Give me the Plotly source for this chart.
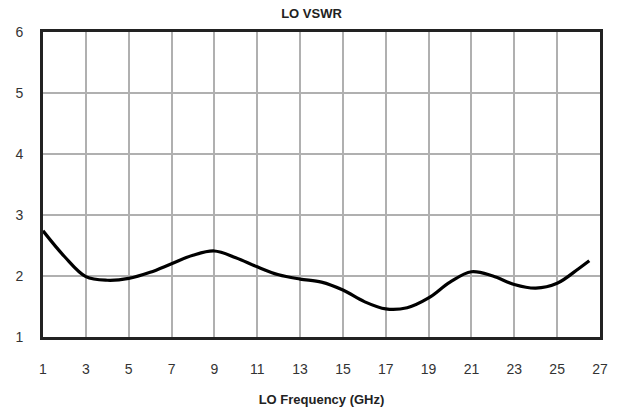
import plotly.graph_objects as go

freq = [1, 2, 3, 4, 5, 6, 7, 8, 9, 10, 11, 12, 13, 14, 15, 16, 17, 18, 19, 20, 21, 22, 23, 24, 25, 26, 26.5]
vswr = [2.74, 2.32, 1.99, 1.93, 1.96, 2.06, 2.2, 2.34, 2.41, 2.3, 2.15, 2.02, 1.95, 1.9, 1.77, 1.58, 1.46, 1.48, 1.64, 1.9, 2.07, 2.0, 1.86, 1.8, 1.88, 2.12, 2.25]

x_ticks = list(range(1, 28, 2))
y_ticks = [1, 2, 3, 4, 5, 6]

fig = go.Figure()
fig.add_trace(go.Scatter(x=freq, y=vswr, mode="lines",
                         line=dict(color="black", width=3.2, shape="spline", smoothing=1.0),
                         showlegend=False))

font_fam = "Liberation Sans Narrow, Liberation Sans, Arial"
fig.update_layout(
    width=623, height=415,
    margin=dict(l=43, r=23, t=32, b=78),
    paper_bgcolor="white", plot_bgcolor="white",
    title=dict(text="<b>LO VSWR</b>", x=0.5, xanchor="center", y=0.968, yanchor="middle",
               font=dict(family=font_fam, size=13, color="#222")),
    xaxis=dict(range=[1, 27], tickvals=x_ticks, showgrid=True, gridcolor="#b0b0b0", gridwidth=2,
               showline=True, linecolor="#222", linewidth=3, mirror=True, zeroline=False,
               automargin=False,
               ticks="", ticklen=0, tickfont=dict(family=font_fam, size=14, color="#333"),
               title=dict(text="<b>LO Frequency (GHz)</b>", standoff=20,
                          font=dict(family=font_fam, size=13, color="#222"))),
    yaxis=dict(range=[1, 6], tickvals=y_ticks, showgrid=True, gridcolor="#b0b0b0", gridwidth=2,
               showline=True, linecolor="#222", linewidth=3, mirror=True, zeroline=False,
               automargin=False,
               ticks="", tickfont=dict(family=font_fam, size=14, color="#333")),
)
fig.update_xaxes(ticklabelstandoff=17)
fig.update_yaxes(ticklabelstandoff=14)
fig.write_html("out.html")
